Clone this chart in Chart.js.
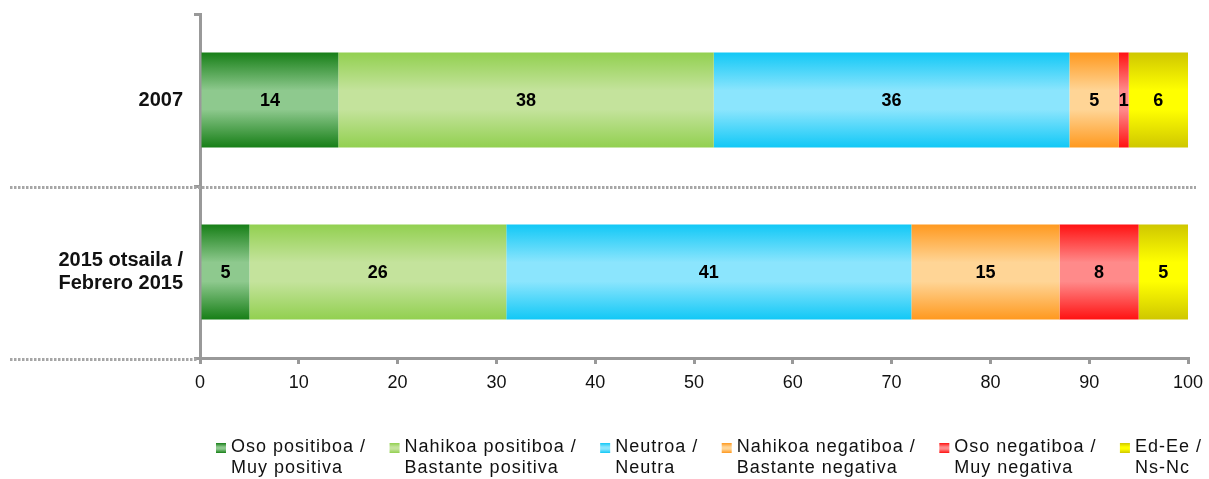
<!DOCTYPE html>
<html>
<head>
<meta charset="utf-8">
<script src="https://cdn.jsdelivr.net/npm/chart.js@4.4.1/dist/chart.umd.min.js"></script>
<style>
  html, body { margin: 0; padding: 0; background: #fff; }
</style>
</head>
<body>
<canvas id="myChart" width="1209" height="479"></canvas>
<script>
// Datos (en %)
const categorias = ["2007", ["2015 otsaila /", "Febrero 2015"]];
const osoPositiboa = [14, 5];
const nahikoaPositiboa = [38, 26];
const neutroa = [36, 41];
const nahikoaNegatiboa = [5, 15];
const osoNegatiboa = [1, 8];
const edEe = [6, 5];
const leyendas = [
  ["Oso positiboa /", "Muy positiva"],
  ["Nahikoa positiboa /", "Bastante positiva"],
  ["Neutroa /", "Neutra"],
  ["Nahikoa negatiboa /", "Bastante negativa"],
  ["Oso negatiboa /", "Muy negativa"],
  ["Ed-Ee /", "Ns-Nc"]
];

const FUENTE = '"Liberation Sans", Arial, sans-serif';
const BAR_PCT = 0.92;
const CAT_PCT = 0.6;

// Colores [borde, centro] del degradado
const colores = [
  ["#177f17", "#8ec98e"],
  ["#92d050", "#c4e39c"],
  ["#12c8f6", "#8be5fd"],
  ["#ff991f", "#ffd596"],
  ["#ff1212", "#ff8a8a"],
  ["#cfc700", "#ffff00"]
];

function hacerDegradado(ctx, y0, y1, c) {
  const g = ctx.createLinearGradient(0, y0, 0, y1);
  g.addColorStop(0, c[0]);
  g.addColorStop(0.4, c[1]);
  g.addColorStop(0.6, c[1]);
  g.addColorStop(1, c[0]);
  return g;
}

function degradado(c) {
  return (context) => {
    const { chartArea, scales } = context.chart;
    if (!chartArea || !scales.y || context.dataIndex === undefined) return c[0];
    const yc = scales.y.getPixelForValue(context.dataIndex);
    const alto = (scales.y.height / categorias.length) * BAR_PCT * CAT_PCT;
    return hacerDegradado(context.chart.ctx, yc - alto / 2, yc + alto / 2, c);
  };
}

const series = [osoPositiboa, nahikoaPositiboa, neutroa, nahikoaNegatiboa, osoNegatiboa, edEe];

// Etiquetas de valor dentro de las barras
const etiquetas = {
  id: "etiquetas",
  afterDatasetsDraw(chart) {
    const ctx = chart.ctx;
    ctx.save();
    ctx.font = "bold 18px " + FUENTE;
    ctx.fillStyle = "#000";
    ctx.textAlign = "center";
    ctx.textBaseline = "middle";
    chart.data.datasets.forEach((ds, i) => {
      chart.getDatasetMeta(i).data.forEach((bar, j) => {
        ctx.fillText(String(ds.data[j]), (bar.x + bar.base) / 2, bar.y + 1);
      });
    });
    ctx.restore();
  }
};

// Lineas punteadas entre categorias
const separadores = {
  id: "separadores",
  afterDraw(chart) {
    const ctx = chart.ctx;
    const y = chart.scales.y;
    const area = chart.chartArea;
    ctx.save();
    ctx.strokeStyle = "#a6a6a6";
    ctx.lineWidth = 3;
    ctx.setLineDash([2.5, 1.5]);
    for (let i = 0; i < categorias.length - 1; i++) {
      const ym = Math.round((y.getPixelForValue(i) + y.getPixelForValue(i + 1)) / 2) + 1.5;
      ctx.beginPath();
      ctx.moveTo(10, ym);
      ctx.lineTo(area.right + 8, ym);
      ctx.stroke();
    }
    ctx.beginPath();
    ctx.moveTo(10, area.bottom + 1.5);
    ctx.lineTo(area.left - 3, area.bottom + 1.5);
    ctx.stroke();
    ctx.restore();
  }
};

// Leyenda en dos lineas
const leyenda = {
  id: "leyenda",
  afterDraw(chart) {
    const ctx = chart.ctx;
    ctx.save();
    ctx.font = "18px " + FUENTE;
    ctx.letterSpacing = "1px";
    ctx.textAlign = "left";
    ctx.textBaseline = "alphabetic";
    let x = 216;
    leyendas.forEach((txt, i) => {
      ctx.fillStyle = hacerDegradado(ctx, 443, 453, colores[i]);
      ctx.fillRect(x, 443, 10, 10);
      ctx.fillStyle = "#111";
      const tx = x + 15;
      ctx.fillText(txt[0], tx, 452);
      ctx.fillText(txt[1], tx, 473);
      const ancho = Math.max(ctx.measureText(txt[0]).width, ctx.measureText(txt[1]).width);
      x = tx + ancho + 23.5;
    });
    ctx.restore();
  }
};

const ctx = document.getElementById("myChart").getContext("2d");

new Chart(ctx, {
  type: "bar",
  data: {
    labels: categorias,
    datasets: series.map((d, i) => ({
      label: leyendas[i].join(" "),
      data: d,
      backgroundColor: degradado(colores[i]),
      borderWidth: 0,
      barPercentage: BAR_PCT,
      categoryPercentage: CAT_PCT
    }))
  },
  options: {
    indexAxis: "y",
    responsive: false,
    animation: false,
    devicePixelRatio: 1,
    layout: { padding: { top: 14, right: 21, bottom: 0, left: 0 } },
    plugins: {
      legend: { display: false },
      tooltip: { enabled: false }
    },
    scales: {
      x: {
        stacked: true,
        min: 0,
        max: 100,
        ticks: {
          stepSize: 10,
          color: "#111",
          font: { family: FUENTE, size: 18 },
          padding: 8
        },
        grid: {
          drawOnChartArea: false,
          drawTicks: true,
          tickLength: 6,
          lineWidth: 3,
          color: "#999"
        },
        border: { color: "#999", width: 3 },
        afterFit: (s) => {
          s.height = 121;
          s.paddingLeft = 0;
          s.paddingRight = 0;
        }
      },
      y: {
        stacked: true,
        z: 1,
        ticks: {
          color: "#111",
          font: { family: FUENTE, size: 20, weight: "bold", lineHeight: 1.15 },
          padding: 11
        },
        grid: {
          drawOnChartArea: false,
          drawTicks: true,
          tickLength: 6,
          lineWidth: 3,
          color: "#999"
        },
        border: { color: "#999", width: 3 },
        afterFit: (s) => {
          s.width = 200;
          s.paddingTop = 0;
          s.paddingBottom = 0;
        }
      }
    }
  },
  plugins: [etiquetas, separadores, leyenda]
});
</script>
</body>
</html>
